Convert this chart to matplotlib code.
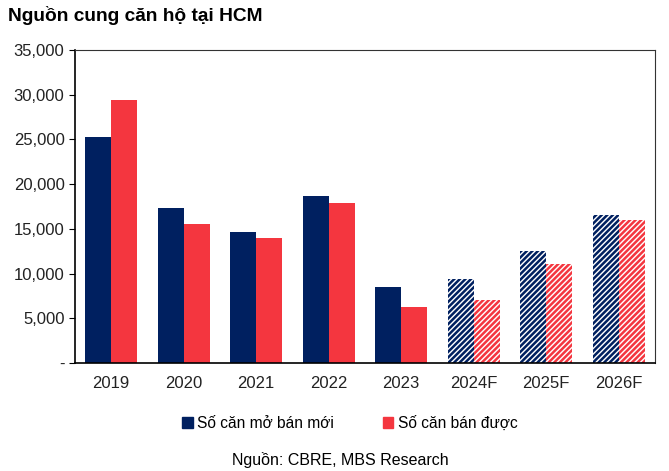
import numpy as np
import matplotlib
matplotlib.use("Agg")
import matplotlib.pyplot as plt
from matplotlib.patches import Patch

plt.rcParams["font.family"] = ["Liberation Sans", "DejaVu Sans"]
plt.rcParams["hatch.linewidth"] = 1.8

# --- Data ---
years = ["2019", "2020", "2021", "2022", "2023", "2024F", "2025F", "2026F"]
mo_ban_moi = [25300, 17300, 14700, 18700, 8500, 9400, 12500, 16600]
ban_duoc = [29400, 15600, 14000, 17900, 6300, 7100, 11100, 16000]
forecast = [False, False, False, False, False, True, True, True]

navy = "#002060"
red = "#F4363F"

fig = plt.figure(figsize=(6.69, 4.71), dpi=100)
ax = fig.add_axes([0.112, 0.229, 0.867, 0.665])

x = np.arange(len(years))
w = 0.36
for i in range(len(years)):
    for val, off, col in [(mo_ban_moi[i], -w / 2, navy), (ban_duoc[i], w / 2, red)]:
        if forecast[i]:
            ax.bar(x[i] + off, val, w, facecolor="white", edgecolor=col,
                   hatch="//////", linewidth=0)
        else:
            ax.bar(x[i] + off, val, w, color=col, linewidth=0)

ax.set_xlim(-0.5, len(years) - 0.5)
ax.set_ylim(0, 35000)
ax.set_yticks(np.arange(0, 35001, 5000))
ax.set_yticklabels(["-"] + [f"{v:,}" for v in range(5000, 35001, 5000)])
ax.set_xticks(x)
ax.set_xticklabels(years)
ax.tick_params(axis="x", length=0, pad=9, labelsize=12, colors="#222222")
ax.tick_params(axis="y", length=4, direction="out", labelsize=12, colors="#222222")
ax.tick_params(axis="y", color="black")

for s in ["left", "bottom"]:
    ax.spines[s].set_linewidth(1.2)
for s in ["top", "right"]:
    ax.spines[s].set_linewidth(0.8)
    ax.spines[s].set_color("#333333")

fig.text(0.012, 0.968, "Nguồn cung căn hộ tại HCM", fontsize=13.8,
         fontweight="bold", va="center", ha="left")

handles = [Patch(color=navy, label="Số căn mở bán mới"),
           Patch(color=red, label="Số căn bán được")]
fig.legend(handles=handles, loc="center", bbox_to_anchor=(0.523, 0.102), ncol=2,
           frameon=False, fontsize=11.2, handlelength=0.7, handleheight=0.7,
           handletextpad=0.3, columnspacing=3.1)

fig.text(0.508, 0.023, "Nguồn: CBRE, MBS Research", fontsize=11.5, ha="center",
         va="center")

fig.savefig("out.png", dpi=100)
